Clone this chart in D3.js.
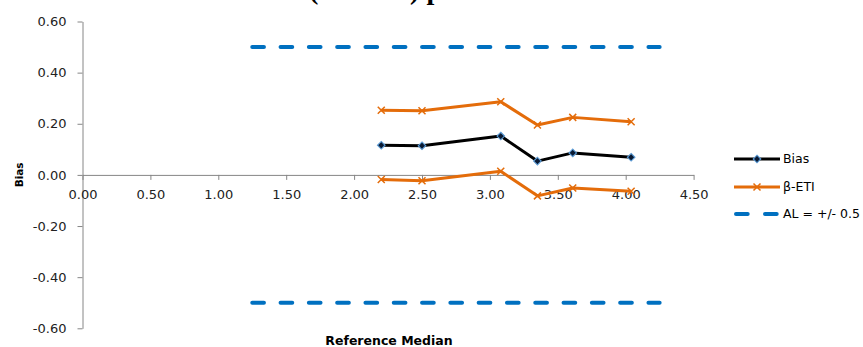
<!DOCTYPE html>
<html>
<head>
<meta charset="utf-8">
<script src="https://cdn.jsdelivr.net/npm/d3@7"></script>
<style>
  html, body { margin: 0; padding: 0; background: #fff; }
  svg { display: block; }
</style>
</head>
<body>
<svg id="chart" width="863" height="347"></svg>
<script>
// Reference medians (x) and the bias / equivalence-interval bounds (y)
const medians   = [2.20, 2.50, 3.08, 3.35, 3.61, 4.04];
const bias      = [0.116, 0.114, 0.152, 0.054, 0.086, 0.069];
const etiUpper  = [0.253, 0.251, 0.286, 0.195, 0.225, 0.208];
const etiLower  = [-0.018, -0.023, 0.014, -0.082, -0.051, -0.064];

// Acceptance limits drawn as horizontal dashed lines
const alX       = [1.25, 4.25];
const alLimits  = [0.5, -0.5];

// Axis ticks
const xTicks = [0, 0.5, 1, 1.5, 2, 2.5, 3, 3.5, 4, 4.5];
const yTicks = [-0.6, -0.4, -0.2, 0, 0.2, 0.4, 0.6];

const legendNames = ["Bias", "β-ETI", "AL = +/- 0.5"];

const C_BIAS = "#000000";
const C_ETI  = "#E46C0A";
const C_AL   = "#0070C0";
const C_AXIS = "#868686";

const svg = d3.select("#chart");

const x = d3.scaleLinear().domain([0, 4.5]).range([82.5, 693.6]);
const y = d3.scaleLinear().domain([-0.6, 0.6]).range([328.3, 21.5]);

const fmt = v => (Math.abs(v) < 1e-9 ? 0 : v).toFixed(2);

// Chart title running off the top edge (only its descenders fall inside)
svg.append("text")
  .attr("x", 309).attr("y", -1)
  .attr("font-family", "Liberation Serif, serif")
  .attr("font-weight", "bold")
  .attr("font-size", 28)
  .attr("fill", "#000")
  .text("(Median) plot");

// Y axis
const yAxis = svg.append("g")
  .attr("transform", `translate(${x(0)},0)`)
  .call(d3.axisLeft(y).tickValues(yTicks).tickFormat(fmt).tickSize(5).tickSizeOuter(0).tickPadding(11));

// X axis at y = 0
const xAxis = svg.append("g")
  .attr("transform", `translate(0,${y(0)})`)
  .call(d3.axisBottom(x).tickValues(xTicks).tickFormat(fmt).tickSize(5).tickSizeOuter(0).tickPadding(10));

[yAxis, xAxis].forEach(g => {
  g.select(".domain").attr("stroke", C_AXIS).attr("stroke-width", 1);
  g.selectAll(".tick line").attr("stroke", C_AXIS).attr("stroke-width", 1);
  g.selectAll(".tick text")
    .attr("font-family", "DejaVu Sans, sans-serif")
    .attr("font-size", 13)
    .attr("fill", "#222");
});

// Axis titles
svg.append("text")
  .attr("x", 389).attr("y", 345)
  .attr("text-anchor", "middle")
  .attr("font-family", "DejaVu Sans, sans-serif")
  .attr("font-weight", "bold")
  .attr("font-size", 12.5)
  .attr("fill", "#000")
  .text("Reference Median");

svg.append("text")
  .attr("transform", `translate(23,${y(0)}) rotate(-90)`)
  .attr("text-anchor", "middle")
  .attr("font-family", "DejaVu Sans, sans-serif")
  .attr("font-weight", "bold")
  .attr("font-size", 10.5)
  .attr("fill", "#000")
  .text("Bias");

// Acceptance limit lines
const dash = "11.7,16.6";
alLimits.forEach(lim => {
  svg.append("path")
    .datum(alX.map(v => [v, lim]))
    .attr("d", d3.line().x(d => x(d[0])).y(d => y(d[1])))
    .attr("fill", "none")
    .attr("stroke", C_AL)
    .attr("stroke-width", 4)
    .attr("stroke-linecap", "round")
    .attr("stroke-dasharray", dash);
});

const line = d3.line().x(d => x(d[0])).y(d => y(d[1]));

// Equivalence-interval bounds
[etiUpper, etiLower].forEach(vals => {
  const pts = medians.map((m, i) => [m, vals[i]]);
  svg.append("path")
    .datum(pts)
    .attr("d", line)
    .attr("fill", "none")
    .attr("stroke", C_ETI)
    .attr("stroke-width", 3)
    .attr("stroke-linejoin", "round");
  svg.append("g").selectAll("path")
    .data(pts)
    .join("path")
    .attr("transform", d => `translate(${x(d[0])},${y(d[1])})`)
    .attr("d", "M-3.5,-3.5L3.5,3.5M-3.5,3.5L3.5,-3.5")
    .attr("stroke", C_ETI)
    .attr("stroke-width", 1.5)
    .attr("fill", "none");
});

// Bias line with diamond markers
const biasPts = medians.map((m, i) => [m, bias[i]]);
svg.append("path")
  .datum(biasPts)
  .attr("d", line)
  .attr("fill", "none")
  .attr("stroke", C_BIAS)
  .attr("stroke-width", 3)
  .attr("stroke-linejoin", "round");

const diamond = "M0,-3.8L3.8,0L0,3.8L-3.8,0Z";
svg.append("g").selectAll("path")
  .data(biasPts)
  .join("path")
  .attr("transform", d => `translate(${x(d[0])},${y(d[1])})`)
  .attr("d", diamond)
  .attr("fill", "#0a1a33")
  .attr("stroke", "#5b9bd5")
  .attr("stroke-width", 1.1);

// Legend
const lg = svg.append("g");
const lx0 = 734, lx1 = 780, lys = [159, 187, 214];

lg.append("line").attr("x1", lx0).attr("x2", lx1).attr("y1", lys[0]).attr("y2", lys[0])
  .attr("stroke", C_BIAS).attr("stroke-width", 3);
lg.append("path").attr("transform", `translate(${(lx0 + lx1) / 2},${lys[0]})`)
  .attr("d", diamond).attr("fill", "#0a1a33").attr("stroke", "#5b9bd5").attr("stroke-width", 1.1);

lg.append("line").attr("x1", lx0).attr("x2", lx1).attr("y1", lys[1]).attr("y2", lys[1])
  .attr("stroke", C_ETI).attr("stroke-width", 3);
lg.append("path").attr("transform", `translate(${(lx0 + lx1) / 2},${lys[1]})`)
  .attr("d", "M-3.5,-3.5L3.5,3.5M-3.5,3.5L3.5,-3.5")
  .attr("stroke", C_ETI).attr("stroke-width", 1.5).attr("fill", "none");

lg.append("line").attr("x1", lx0 + 2).attr("x2", lx1 - 2).attr("y1", lys[2]).attr("y2", lys[2])
  .attr("stroke", C_AL).attr("stroke-width", 4).attr("stroke-linecap", "round")
  .attr("stroke-dasharray", "11.7,17.3");

lg.selectAll("text")
  .data(legendNames)
  .join("text")
  .attr("x", 783)
  .attr("y", (d, i) => lys[i])
  .attr("dy", "0.35em")
  .attr("font-family", "DejaVu Sans, sans-serif")
  .attr("font-size", 12.5)
  .attr("fill", "#000")
  .text(d => d);
</script>
</body>
</html>
